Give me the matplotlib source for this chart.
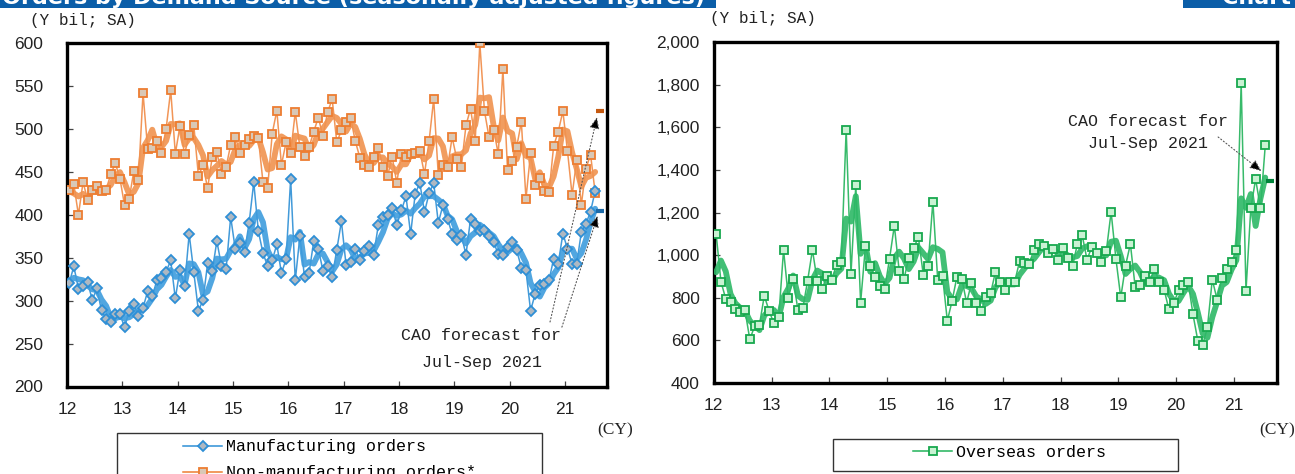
import numpy as np
import pandas as pd
import matplotlib
matplotlib.use("Agg")
import matplotlib.pyplot as plt
from matplotlib.patches import Rectangle
from matplotlib.lines import Line2D
from matplotlib.ticker import FuncFormatter

# ---------------- data ----------------
months = pd.period_range("2012-01", "2021-07", freq="M")
year_ticks = list(range(2012, 2022))
year_labels = [str(y)[2:] for y in year_ticks]

manufacturing = [
    320.5, 340, 314, 317.4, 321.3, 301, 314.3, 288.6, 278.9, 274.6, 284.8, 284.8,
    268.8, 288.3, 296, 281.6, 291.8, 310.8, 305, 323.6, 326.7, 333.7, 346.9, 302.6,
    336, 316.6, 377.6, 333.3, 288.3, 300.6, 343.4, 334.4, 369.4, 340.7, 336.4, 397.5,
    359.8, 367.6, 356.6, 390.9, 437.9, 380.8, 355.5, 340.3, 346.9, 365.6, 332.1, 348,
    441.8, 323.6, 375, 327.5, 332.6, 369.4, 360.5, 334.8, 340, 327.5, 359.4, 392.4,
    341.9, 344.6, 360.1, 347, 357.4, 363.6, 353.6, 388, 397.5, 400, 408, 388.2,
    405.2, 421.6, 377.5, 424.7, 437.3, 403, 425, 437.3, 390.7, 411.1, 395.6, 377.6,
    370.3, 376.1, 353.6, 395.6, 388.9, 381.1, 381.9, 374.9, 368.3, 353.9, 352.8, 362.5,
    368.3, 358.6, 338.4, 335.3, 288.3, 308.1, 317.8, 319.8, 323.6, 348.9, 343.1, 378.1,
    360.5, 343.1, 343.1, 379.6, 389.7, 403.7, 428,
]
non_manufacturing = [
    428.6, 435.6, 400, 437.9, 417.7, 428.6, 433.2, 427.8, 429.4, 447.2, 460, 442.2,
    411, 418.4, 451, 441, 542, 477.2, 478.4, 486.1, 472.5, 500, 545.2, 471.4,
    503.2, 470.6, 493.5, 504.8, 445.7, 457.7, 430.9, 467.4, 472.9, 448, 455.4, 481.8,
    491.2, 471.7, 481, 488, 491.5, 489.6, 437.9, 430.9, 494.7, 521.5, 458.1, 484.5,
    472.5, 519.9, 478.7, 468.2, 479.1, 497, 513.4, 491.5, 519.6, 534.7, 484.5, 498.5,
    508.2, 512.9, 486.1, 466.7, 458.1, 456.2, 467, 478.4, 455.4, 445.3, 467.4, 437.5,
    471.4, 467.9, 470.6, 471.7, 474.4, 447.6, 485.7, 535, 446.1, 458.5, 455.4, 490.4,
    465.1, 456.2, 504.4, 523.8, 486.1, 600, 521.1, 490.4, 499.3, 470.9, 570, 452.3,
    462.4, 479.5, 508.2, 418.9, 471.7, 434.4, 442.9, 427.8, 426.2, 480.3, 497, 520.7,
    474.4, 423.1, 463.6, 411.9, 453.9, 470.2, 425.9,
]
overseas = [
    1101.5, 876.5, 795.4, 781.3, 746.7, 731.2, 740.6, 604.6, 667, 673.6, 809.5, 739.2,
    679.7, 707.8, 1025, 800.1, 889.2, 740.6, 750, 881.2, 1025, 878.1, 840.6, 903.3,
    884.5, 956.2, 970.2, 1590.4, 914, 1328, 778, 1042, 948, 898.6, 856.4, 842.3,
    982.9, 1139, 928.1, 887.4, 989, 1034.5, 1084.2, 909.3, 951.5, 1252, 885.9, 903.3,
    692.3, 786, 900, 890.6, 776.7, 868.5, 775.2, 736.1, 803.1, 821.9, 923.3, 876.5,
    835.7, 876.5, 876.5, 971.6, 964, 959.4, 1026.5, 1053.3, 1045.3, 1011, 1029.8, 979.6,
    1032.6, 987.6, 948.2, 1053.3, 1093.6, 979.6, 1039, 1011, 968.8, 1018.5, 1203.2, 982.9,
    801.6, 951.5, 1053.3, 850, 859.2, 901.4, 873.3, 936.1, 873.3, 839, 745.2, 773.4,
    835.7, 859.2, 873.3, 721.8, 598.5, 578, 662.3, 885.9, 792.1, 893.8, 936.1, 967.1,
    1026.5, 1807.8, 834.2, 1220, 1357.8, 1221, 1515.5,
]
# Nov-Dec 2011 values (only used for the 3-month moving average at the start)
manufacturing_prior = [325, 319.6]
non_manufacturing_prior = [443, 410.8]
overseas_prior = [711.5, 947]

forecast_month = pd.Period("2021-08", freq="M")   # Jul-Sep 2021 quarter
forecast_manufacturing = 404
forecast_non_manufacturing = 521
forecast_overseas = 1350

# ---------------- helpers ----------------
W, H = 1295, 474
def fx(px): return px / W
def fy(py): return 1 - py / H

def frac_year(p):
    return p.year + (p.month - 0.5) / 12.0

x = np.array([frac_year(p) for p in months])
xf = frac_year(forecast_month)

def mov_avg(prior, vals):
    s = pd.Series(list(prior) + list(vals), dtype=float)
    return s.rolling(3).mean().to_numpy()[len(prior):]

ORANGE = "#ED7D31"
BLUE = "#2E8FD6"
MONO = "Liberation Mono"
SANS = "Liberation Sans"
SERIF = "Liberation Serif"

fig = plt.figure(figsize=(W / 100, H / 100), dpi=100)

# title bar (cropped at the top)
fig.patches.append(Rectangle((0, fy(8)), fx(716), 8 / H, transform=fig.transFigure,
                             facecolor="#0B5EA8", edgecolor="none"))
fig.patches.append(Rectangle((fx(1183), fy(8)), 1 - fx(1183), 8 / H, transform=fig.transFigure,
                             facecolor="#0B5EA8", edgecolor="none"))
fig.text(fx(2), fy(4), "Orders by Demand Source (seasonally adjusted figures)", color="white",
         fontsize=16, fontweight="bold", family="DejaVu Sans", ha="left", va="baseline")
fig.text(fx(1222), fy(4), "Chart 2", color="white", fontsize=16, fontweight="bold",
         family="DejaVu Sans", ha="left", va="baseline")

def style_axes(ax, ylim, yticks, fmt, ypad):
    ax.set_xlim(2012, 2021.75)
    ax.set_ylim(*ylim)
    ax.set_xticks(year_ticks)
    ax.set_xticklabels(year_labels)
    ax.set_yticks(yticks)
    ax.yaxis.set_major_formatter(FuncFormatter(fmt))
    for s in ax.spines.values():
        s.set_linewidth(2.4)
        s.set_color("black")
    ax.tick_params(axis="both", direction="in", length=4, width=0.9, color="#444444",
                   labelsize=12.5)
    ax.tick_params(axis="y", pad=ypad)
    ax.tick_params(axis="x", pad=11)
    for lab in ax.get_xticklabels() + ax.get_yticklabels():
        lab.set_family(SANS)
        lab.set_color("#222222")

def draw_series(ax, vals, prior, line_c, thick_c, marker, ms, mfc, mec):
    ma = mov_avg(prior, vals)
    ax.plot(x, vals, color=line_c, lw=1.1, alpha=0.9, zorder=2)
    ax.plot(x, ma, color=thick_c, lw=4.2, alpha=0.9, zorder=3, solid_capstyle="round",
            solid_joinstyle="round")
    ax.plot(x, vals, linestyle="none", marker=marker, ms=ms, mfc=mfc, mec=mec, mew=1.3,
            zorder=4, clip_on=True)

# ---------------- left panel ----------------
axL = fig.add_axes([fx(66.9), fy(386.5), (606.7 - 66.9) / W, (386.5 - 43.2) / H])
draw_series(axL, non_manufacturing, non_manufacturing_prior, "#F08A45", "#F0924F", "s", 6.2,
            "#D9C8B6", ORANGE)
draw_series(axL, manufacturing, manufacturing_prior, "#2D8FD5", "#3E9CDD", "D", 4.6,
            "#AEB8C2", BLUE)
axL.plot([xf], [forecast_non_manufacturing], marker="_", ms=6, mew=3, color="#C55A11", zorder=5)
axL.plot([xf], [forecast_manufacturing], marker="_", ms=6, mew=3, color="#1C6AA8", zorder=5)
style_axes(axL, (200, 600), range(200, 601, 50), lambda v, p: f"{int(v)}", 17)

arrow_kw = dict(arrowstyle="-|>,head_length=0.7,head_width=0.3", facecolor="black",
                edgecolor="#555555", lw=0.8, linestyle=(0, (1, 2)), shrinkA=0, shrinkB=0)
axL.annotate("", xy=(xf - 0.05, forecast_non_manufacturing - 7), xycoords="data",
             xytext=(0.895, 0.188), textcoords="axes fraction", arrowprops=arrow_kw, zorder=6)
axL.annotate("", xy=(xf - 0.04, forecast_manufacturing - 5), xycoords="data",
             xytext=(0.917, 0.173), textcoords="axes fraction", arrowprops=arrow_kw, zorder=6)
fig.text(fx(481), fy(336), "CAO forecast for", family=MONO, fontsize=12, ha="center",
         va="center", color="#222222")
fig.text(fx(481.5), fy(362), "Jul-Sep 2021", family=MONO, fontsize=12, ha="center",
         va="center", color="#222222")

# ---------------- right panel ----------------
axR = fig.add_axes([fx(713.7), fy(383), (1277.3 - 713.7) / W, (383 - 42.3) / H])
draw_series(axR, overseas, overseas_prior, "#22B35A", "#2DB866", "s", 5.6, "#C9F2D3", "#17A84E")
axR.plot([xf], [forecast_overseas], marker="_", ms=6, mew=3, color="#00843A", zorder=5)
style_axes(axR, (400, 2000), range(400, 2001, 200), lambda v, p: f"{int(v):,}", 10)
axR.annotate("", xy=(xf - 0.15, forecast_overseas + 45), xycoords="data",
             xytext=(0.895, 0.722), textcoords="axes fraction", arrowprops=arrow_kw, zorder=6)
fig.text(fx(1148), fy(121.7), "CAO forecast for", family=MONO, fontsize=12, ha="center",
         va="center", color="#222222")
fig.text(fx(1147.5), fy(143.3), "Jul-Sep 2021", family=MONO, fontsize=12, ha="center",
         va="center", color="#222222")

# unit / axis texts
fig.text(fx(30), fy(20), "(Y bil; SA)", family=MONO, fontsize=11.5, ha="left", va="center",
         color="#222222")
fig.text(fx(710), fy(18), "(Y bil; SA)", family=MONO, fontsize=11.5, ha="left", va="center",
         color="#222222")
fig.text(fx(597), fy(430), "(CY)", family=SERIF, fontsize=12.5, ha="left", va="center",
         color="#222222")
fig.text(fx(1259), fy(430), "(CY)", family=SERIF, fontsize=12.5, ha="left", va="center",
         color="#222222")

# ---------------- legends ----------------
fig.patches.append(Rectangle((fx(117.3), fy(500)), (541.7 - 117.3) / W, (500 - 433.3) / H,
                             transform=fig.transFigure, facecolor="white",
                             edgecolor="#333333", lw=1.0))
fig.patches.append(Rectangle((fx(833.3), fy(470.7)), (1177.7 - 833.3) / W, (470.7 - 439.3) / H,
                             transform=fig.transFigure, facecolor="white",
                             edgecolor="#333333", lw=1.0))

h_man = Line2D([], [], color=BLUE, lw=1.1, marker="D", ms=4.6, mfc="#AEB8C2", mec=BLUE, mew=1.3)
h_non = Line2D([], [], color=ORANGE, lw=1.1, marker="s", ms=6.2, mfc="#D9C8B6", mec=ORANGE,
               mew=1.3)
h_ovs = Line2D([], [], color="#22B35A", lw=1.1, marker="s", ms=5.6, mfc="#C9F2D3",
               mec="#17A84E", mew=1.3)
leg_kw = dict(frameon=False, borderpad=0, borderaxespad=0, handlelength=2.35,
              handletextpad=0.25, prop={"family": MONO, "size": 12})
fig.legend([h_man, h_non], ["Manufacturing orders", "Non-manufacturing orders*"],
           loc="upper left", bbox_to_anchor=(fx(183), fy(439.5)), labelspacing=0.65, **leg_kw)
fig.legend([h_ovs], ["Overseas orders"], loc="center left",
           bbox_to_anchor=(fx(913), fy(452.3)), labelspacing=0.35, **leg_kw)

fig.savefig("out.png", dpi=100)
